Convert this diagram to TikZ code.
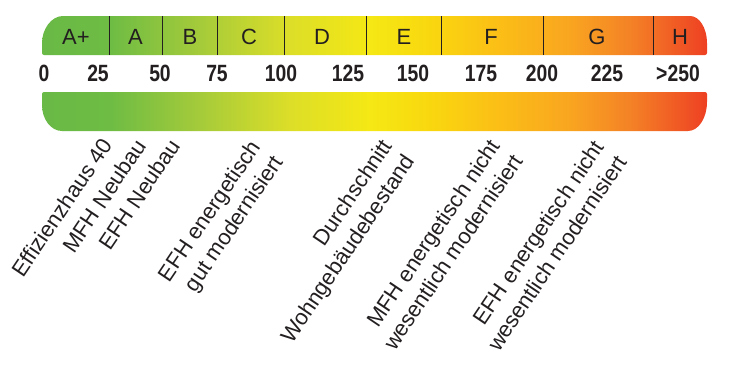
\documentclass[tikz,border=0pt]{standalone}
\usepackage{fontspec}
\setmainfont{Liberation Sans}
\definecolor{ink}{RGB}{35,31,32}
\definecolor{g0}{RGB}{105,185,70}
\definecolor{g1}{RGB}{110,188,68}
\definecolor{g2}{RGB}{165,203,58}
\definecolor{g3}{RGB}{220,222,40}
\definecolor{g4}{RGB}{245,232,20}
\definecolor{g5}{RGB}{249,215,15}
\definecolor{g6}{RGB}{251,190,22}
\definecolor{g7}{RGB}{249,165,32}
\definecolor{g8}{RGB}{244,130,38}
\definecolor{g9}{RGB}{238,64,35}
\pgfdeclarehorizontalshading{energy}{100bp}{color(0bp)=(g0); color(25bp)=(g0); color(30.1bp)=(g1); color(36.9bp)=(g2); color(43.6bp)=(g3); color(49.7bp)=(g4); color(54.2bp)=(g5); color(59.4bp)=(g6); color(64.7bp)=(g7); color(69.2bp)=(g8); color(75bp)=(g9); color(100bp)=(g9)}
\newcommand{\numtxt}[1]{\scalebox{0.92}[1.12]{#1}}
\begin{document}
\begin{tikzpicture}[x=1pt,y=-1pt,
  lbl/.style={inner sep=0pt, text=ink, font=\fontsize{22}{26}\selectfont},
  num/.style={inner sep=0pt, text=ink, font=\fontsize{21}{25}\selectfont\bfseries},
  rot/.style={inner sep=0pt, text=ink, font=\fontsize{22}{27}\selectfont, rotate=56, anchor=north east, align=right},
  divider/.style={draw=ink, line width=0.8pt}]
\useasboundingbox (0,0) rectangle (734,380);
% top bar
\shade[shading=energy] (42,45) .. controls (42,29) and (51.4,16) .. (63,16) -- (690,16)
  .. controls (699.4,16) and (707,28.1) .. (707,43) [rounded corners=2pt] -- (707,55) -- (42,55) -- cycle;
% bottom bar
\shade[shading=energy] (42,105) [rounded corners=2pt] -- (42,92) -- (707,92) [sharp corners] -- (707,102)
  .. controls (707,118) and (698.5,131) .. (688,131) -- (62,131)
  .. controls (51,131) and (42,119.4) .. (42,105) -- cycle;
% dividers
\foreach \x in {109,162,217,284,366,441,543,653}
  \draw[divider] (\x,16) -- (\x,55);
% class labels
\node[lbl] (cAp) at (76,36.5) {A+};
\node[lbl] (cA) at (135.5,36.5) {A};
\node[lbl] (cB) at (190,36.5) {B};
\node[lbl] (cC) at (249,36.5) {C};
\node[lbl] (cD) at (322,36.5) {D};
\node[lbl] (cE) at (404,36.5) {E};
\node[lbl] (cF) at (491,36.5) {F};
\node[lbl] (cG) at (597,36.5) {G};
\node[lbl] (cH) at (680,36.5) {H};
% scale numbers
\node[num] (n0) at (44,73.5) {\numtxt{0}};
\node[num] (n25) at (98,73.5) {\numtxt{25}};
\node[num] (n50) at (160,73.5) {\numtxt{50}};
\node[num] (n75) at (217,73.5) {\numtxt{75}};
\node[num] (n100) at (281,73.5) {\numtxt{100}};
\node[num] (n125) at (348,73.5) {\numtxt{125}};
\node[num] (n150) at (413,73.5) {\numtxt{150}};
\node[num] (n175) at (481,73.5) {\numtxt{175}};
\node[num] (n200) at (542,73.5) {\numtxt{200}};
\node[num] (n225) at (607,73.5) {\numtxt{225}};
\node[num] (n250) at (678,73.5) {\numtxt{>250}};
% rotated labels
\node[rot] (r1) at (100,136) {Effizienzhaus 40};
\node[rot] (r2) at (134,137) {MFH Neubau};
\node[rot] (r3) at (168,137) {EFH Neubau};
\node[rot] (r4) at (248,138) {EFH energetisch\\gut modernisiert};
\node[rot] (r5) at (380,137) {Durchschnitt\\Wohngebäudebestand};
\node[rot] (r6) at (488,137) {MFH energetisch nicht\\wesentlich modernisiert};
\node[rot] (r7) at (592,138) {EFH energetisch nicht\\wesentlich modernisiert};
\end{tikzpicture}
\end{document}
